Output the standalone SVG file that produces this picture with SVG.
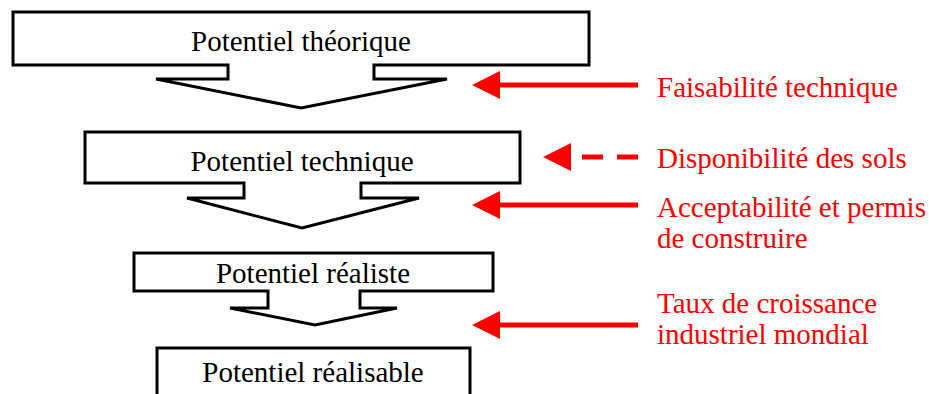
<svg xmlns="http://www.w3.org/2000/svg" width="929" height="394" viewBox="0 0 929 394">
<style>
.shape{fill:#fff;stroke:#000;stroke-width:3;stroke-linejoin:miter}
.lbl{font-family:"Liberation Serif","Times New Roman",serif;font-size:29px;fill:#000;text-anchor:middle}
.red{font-family:"Liberation Serif","Times New Roman",serif;font-size:29px;fill:#ff0000}
.ln{stroke:#ff0000;stroke-width:5;fill:none}
.head{fill:#ff0000}
</style>
<rect width="929" height="394" fill="#fff"/>
<g id="node-theorique">
<path class="shape" d="M13,12 H589 V65 H374 V79 H447 L301,108 L156,79 H228 V65 H13 Z"/>
<text class="lbl" x="301" y="51">Potentiel théorique</text>
</g>
<g id="node-technique">
<path class="shape" d="M85,132 H520 V183 H361 V198 H419 L302,228 L187,198 H244 V183 H85 Z"/>
<text class="lbl" x="302" y="171">Potentiel technique</text>
</g>
<g id="node-realiste">
<path class="shape" d="M134,253 H493 V291 H360 V308 H397 L315,325 L230,308 H268 V291 H134 Z"/>
<text class="lbl" x="313" y="283">Potentiel réaliste</text>
</g>
<g id="node-realisable">
<rect class="shape" x="157" y="348" width="313" height="60"/>
<text class="lbl" x="313" y="382">Potentiel réalisable</text>
</g>
<g id="connectors">
<line class="ln" x1="496" y1="85" x2="638" y2="85"/>
<polygon class="head" points="472,85 500,71 500,99"/>
<line class="ln" x1="582" y1="157" x2="638" y2="157" stroke-dasharray="21,14"/>
<polygon class="head" points="543,157 571,143 571,171"/>
<line class="ln" x1="496" y1="205" x2="638" y2="205"/>
<polygon class="head" points="472,205 500,191 500,219"/>
<line class="ln" x1="496" y1="325" x2="638" y2="325"/>
<polygon class="head" points="472,325 500,311 500,339"/>
</g>
<g id="labels">
<text class="red" x="657" y="97">Faisabilité technique</text>
<text class="red" x="657" y="168">Disponibilité des sols</text>
<text class="red" x="657" y="217">Acceptabilité et permis</text>
<text class="red" x="657" y="248">de construire</text>
<text class="red" x="657" y="313">Taux de croissance</text>
<text class="red" x="657" y="344">industriel mondial</text>
</g>
</svg>
